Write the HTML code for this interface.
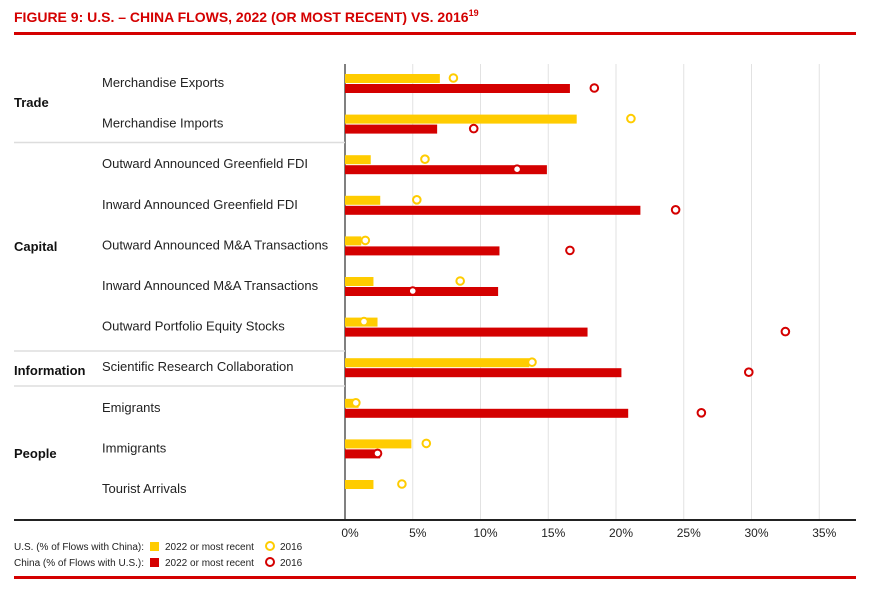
<!DOCTYPE html>
<html><head><meta charset="utf-8"><style>
body{margin:0;background:#fff;width:876px;height:588px;overflow:hidden;font-family:"Liberation Sans Narrow","Liberation Sans",sans-serif;}
svg text{font-family:"Liberation Sans Narrow","Liberation Sans",sans-serif;}
</style></head><body>
<svg id="chart" width="876" height="588">
<text x="14" y="22" fill="#d40000" font-weight="bold" font-size="14">FIGURE 9: U.S. – CHINA FLOWS, 2022 (OR MOST RECENT) VS. 2016<tspan font-size="9" dy="-6">19</tspan></text>
<rect x="14" y="32" width="842" height="3" fill="#d40000"/>
<rect x="14" y="576" width="842" height="3" fill="#d40000"/>
<g id="grid"></g><g id="bars"></g><g id="labels"></g>
<g font-size="10" fill="#222">
<text x="14" y="550">U.S. (% of Flows with China):</text>
<rect x="150" y="542" width="9" height="9" fill="#ffcc00"/>
<text x="165" y="550">2022 or most recent</text>
<circle cx="270" cy="546" r="4" fill="#fff" stroke="#ffcc00" stroke-width="2"/>
<text x="280" y="550">2016</text>
<text x="14" y="566">China (% of Flows with U.S.):</text>
<rect x="150" y="558" width="9" height="9" fill="#d40000"/>
<text x="165" y="566">2022 or most recent</text>
<circle cx="270" cy="562" r="4" fill="#fff" stroke="#d40000" stroke-width="2"/>
<text x="280" y="566">2016</text>
</g>
</svg>
<script>
const categories=["Merchandise Exports","Merchandise Imports","Outward Announced Greenfield FDI","Inward Announced Greenfield FDI","Outward Announced M&A Transactions","Inward Announced M&A Transactions","Outward Portfolio Equity Stocks","Scientific Research Collaboration","Emigrants","Immigrants","Tourist Arrivals"];
const us2022=[7.0,17.1,1.9,2.6,1.2,2.1,2.4,13.6,1.0,4.9,2.1];
const us2016=[8.0,21.1,5.9,5.3,1.5,8.5,1.4,13.8,0.8,6.0,4.2];
const cn2022=[16.6,6.8,14.9,21.8,11.4,11.3,17.9,20.4,20.9,2.6,null];
const cn2016=[18.4,9.5,12.7,24.4,16.6,5.0,32.5,29.8,26.3,2.4,null];
const ticks=[0,5,10,15,20,25,30,35];
const groups=["Trade","Capital","Information","People"];
const groupLabelY=[103,247,371,454];
const NS="http://www.w3.org/2000/svg";
const x=v=>345+v*13.55;
const rowY=i=>83+i*40.6;
function mk(t,a,p){const e=document.createElementNS(NS,t);for(const k in a)e.setAttribute(k,a[k]);p.appendChild(e);return e;}
const G=document.getElementById('grid'),B=document.getElementById('bars'),L=document.getElementById('labels');
ticks.forEach(t=>{
 if(t>0){const l=mk('line',{x1:x(t),x2:x(t),y1:64,y2:520,stroke:'#e2e2e2','stroke-width':1},G);
 
 }
 const tx=mk('text',{x:x(t)+5,y:537,'text-anchor':'middle','font-size':12,fill:'#222'},G);tx.textContent=t+'%';
 
 
});
const ax=mk('line',{x1:345,x2:345,y1:64,y2:520,stroke:'#000','stroke-width':1},G);


const bl=mk('rect',{x:14,y:519,width:842,height:2,fill:'#222'},G);


[142.5,351,386].forEach((y,i)=>{const d=mk('line',{x1:14,x2:345,y1:y,y2:y,stroke:'#ddd','stroke-width':1.5},G);
 
 });
groups.forEach((g,i)=>{
 const t=mk('text',{x:14,y:groupLabelY[i]+4,'font-size':13,'font-weight':'bold',fill:'#111'},L);t.textContent=g;
 
 });
categories.forEach((c,i)=>{const cy=rowY(i);
 const t=mk('text',{x:102,y:cy+4,'font-size':13,fill:'#222'},L);t.textContent=c;
 
 
 const yb=mk('rect',{x:345,y:cy-9,width:x(us2022[i])-345,height:9,fill:'#ffcc00'},B);
 
 
 if(cn2022[i]!=null){const rb=mk('rect',{x:345,y:cy+1,width:x(cn2022[i])-345,height:9,fill:'#d40000'},B);
 
 }
 const yc=mk('circle',{cx:x(us2016[i]),cy:cy-5,r:3.8,fill:'#fff',stroke:'#ffcc00','stroke-width':2},B);
 
 
 if(cn2016[i]!=null){const rc=mk('circle',{cx:x(cn2016[i]),cy:cy+5,r:3.8,fill:'#fff',stroke:'#d40000','stroke-width':2},B);
 
 }
});
</script>
</body></html>
